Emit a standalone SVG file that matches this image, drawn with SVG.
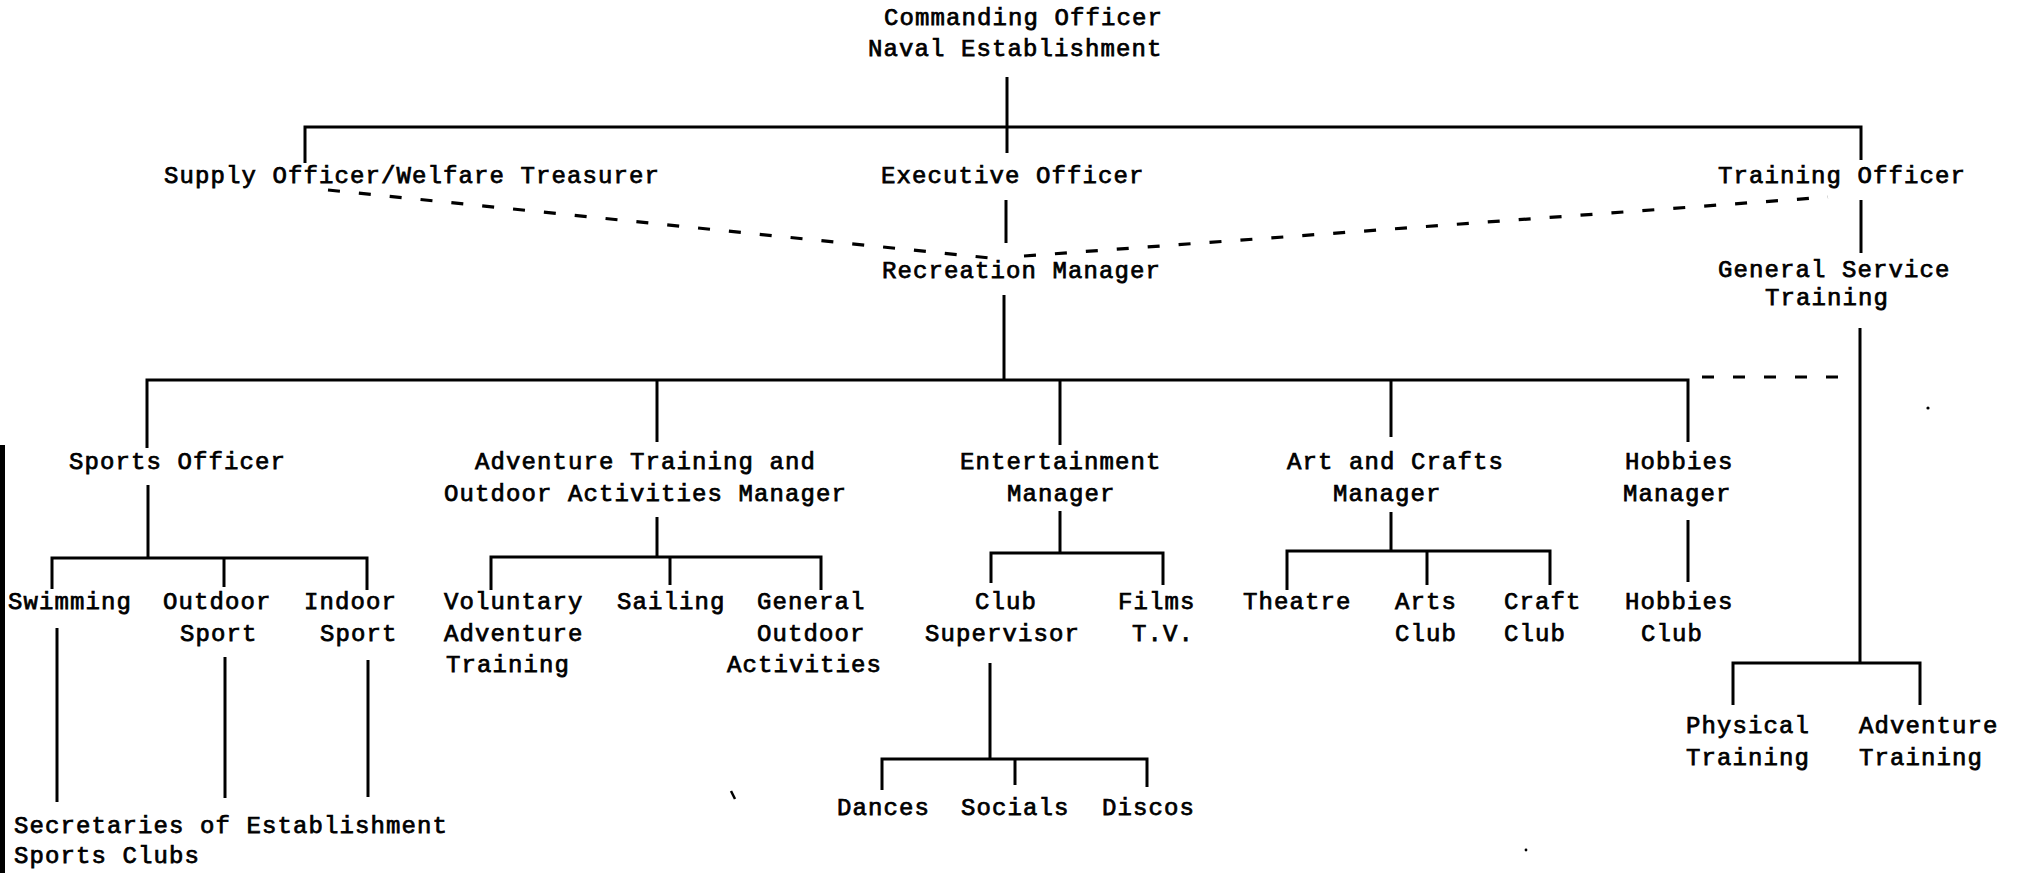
<svg xmlns="http://www.w3.org/2000/svg" width="2020" height="873" viewBox="0 0 2020 873">
  <style>
    text { font-family: "Liberation Mono", "DejaVu Sans Mono", monospace; font-size: 24px; letter-spacing: 1.1px; fill: #000; stroke: #000; stroke-width: 0.75px; }
    .ln { stroke: #000; stroke-width: 3; fill: none; stroke-linecap: butt; }
    .dash { stroke: #000; stroke-width: 3.2; fill: none; stroke-dasharray: 12 19; }
  </style>
  <rect width="2020" height="873" fill="#fff"/>

  <!-- page-edge shadow on the left -->
  <rect x="0" y="445" width="5" height="428" fill="#000"/>

  <g id="connectors">
    <!-- Commanding Officer to first tier -->
    <path class="ln" d="M1007 77 V153"/>
    <path class="ln" d="M305 163 V127 H1861 V160"/>
    <!-- Executive Officer to Recreation Manager -->
    <path class="ln" d="M1006 200 V243"/>
    <!-- Training Officer to General Service Training -->
    <path class="ln" d="M1861 200 V253"/>
    <!-- functional (dashed) links -->
    <path class="dash" d="M328 190 L990 258"/>
    <path class="dash" d="M1024 256 L1828 197"/>
    <!-- Recreation Manager to managers -->
    <path class="ln" d="M1004 295 V380"/>
    <path class="ln" d="M147 448 V380 H1688 V442"/>
    <path class="ln" d="M657 380 V442"/>
    <path class="ln" d="M1060 380 V445"/>
    <path class="ln" d="M1391 380 V437"/>
    <path class="dash" d="M1702 377 H1845"/>
    <!-- General Service Training branch -->
    <path class="ln" d="M1860 328 V663"/>
    <path class="ln" d="M1733 705 V663 H1920 V705"/>
    <!-- Sports Officer branch -->
    <path class="ln" d="M148 485 V558"/>
    <path class="ln" d="M52 589 V558 H367 V590"/>
    <path class="ln" d="M224 558 V587"/>
    <path class="ln" d="M57 628 V802"/>
    <path class="ln" d="M225 657 V798"/>
    <path class="ln" d="M368 660 V797"/>
    <!-- Adventure Training branch -->
    <path class="ln" d="M657 517 V557"/>
    <path class="ln" d="M491 590 V557 H821 V590"/>
    <path class="ln" d="M670 557 V585"/>
    <!-- Entertainment branch -->
    <path class="ln" d="M1060 511 V553"/>
    <path class="ln" d="M991 583 V553 H1163 V585"/>
    <path class="ln" d="M990 663 V759"/>
    <path class="ln" d="M882 790 V759 H1147 V787"/>
    <path class="ln" d="M1015 759 V785"/>
    <!-- Art and Crafts branch -->
    <path class="ln" d="M1391 512 V551"/>
    <path class="ln" d="M1287 590 V551 H1550 V585"/>
    <path class="ln" d="M1427 551 V585"/>
    <!-- Hobbies branch -->
    <path class="ln" d="M1688 520 V582"/>
  </g>

  <g id="commanding-officer">
    <text x="884" y="25">Commanding Officer</text>
    <text x="868" y="56">Naval Establishment</text>
  </g>
  <g id="supply-officer"><text x="164" y="183">Supply Officer/Welfare Treasurer</text></g>
  <g id="executive-officer"><text x="881" y="183">Executive Officer</text></g>
  <g id="training-officer"><text x="1718" y="183">Training Officer</text></g>
  <g id="recreation-manager"><text x="882" y="278">Recreation Manager</text></g>
  <g id="general-service-training">
    <text x="1718" y="277">General Service</text>
    <text x="1765" y="305">Training</text>
  </g>

  <g id="sports-officer"><text x="69" y="469">Sports Officer</text></g>
  <g id="adventure-manager">
    <text x="475" y="469">Adventure Training and</text>
    <text x="444" y="501">Outdoor Activities Manager</text>
  </g>
  <g id="entertainment-manager">
    <text x="960" y="469">Entertainment</text>
    <text x="1007" y="501">Manager</text>
  </g>
  <g id="arts-crafts-manager">
    <text x="1287" y="469">Art and Crafts</text>
    <text x="1333" y="501">Manager</text>
  </g>
  <g id="hobbies-manager">
    <text x="1625" y="469">Hobbies</text>
    <text x="1623" y="501">Manager</text>
  </g>

  <g id="swimming"><text x="8" y="609">Swimming</text></g>
  <g id="outdoor-sport">
    <text x="163" y="609">Outdoor</text>
    <text x="180" y="641">Sport</text>
  </g>
  <g id="indoor-sport">
    <text x="304" y="609">Indoor</text>
    <text x="320" y="641">Sport</text>
  </g>
  <g id="voluntary-adventure">
    <text x="444" y="609">Voluntary</text>
    <text x="444" y="641">Adventure</text>
    <text x="446" y="672">Training</text>
  </g>
  <g id="sailing"><text x="617" y="609">Sailing</text></g>
  <g id="general-outdoor">
    <text x="757" y="609">General</text>
    <text x="757" y="641">Outdoor</text>
    <text x="727" y="672">Activities</text>
  </g>
  <g id="club-supervisor">
    <text x="975" y="609">Club</text>
    <text x="925" y="641">Supervisor</text>
  </g>
  <g id="films-tv">
    <text x="1118" y="609">Films</text>
    <text x="1132" y="641">T.V.</text>
  </g>
  <g id="theatre"><text x="1243" y="609">Theatre</text></g>
  <g id="arts-club">
    <text x="1395" y="609">Arts</text>
    <text x="1395" y="641">Club</text>
  </g>
  <g id="craft-club">
    <text x="1504" y="609">Craft</text>
    <text x="1504" y="641">Club</text>
  </g>
  <g id="hobbies-club">
    <text x="1625" y="609">Hobbies</text>
    <text x="1641" y="641">Club</text>
  </g>
  <g id="physical-training">
    <text x="1686" y="733">Physical</text>
    <text x="1686" y="765">Training</text>
  </g>
  <g id="adventure-training">
    <text x="1859" y="733">Adventure</text>
    <text x="1859" y="765">Training</text>
  </g>

  <g id="dances"><text x="837" y="815">Dances</text></g>
  <g id="socials"><text x="961" y="815">Socials</text></g>
  <g id="discos"><text x="1102" y="815">Discos</text></g>

  <g id="sports-clubs">
    <text x="14" y="833">Secretaries of Establishment</text>
    <text x="14" y="863">Sports Clubs</text>
  </g>

  <!-- stray specks on the sheet -->
  <path d="M731 791 L735 799" stroke="#000" stroke-width="2.5"/>
  <circle cx="1928" cy="408" r="1.6" fill="#000"/>
  <circle cx="1526" cy="850" r="1.4" fill="#000"/>
</svg>
